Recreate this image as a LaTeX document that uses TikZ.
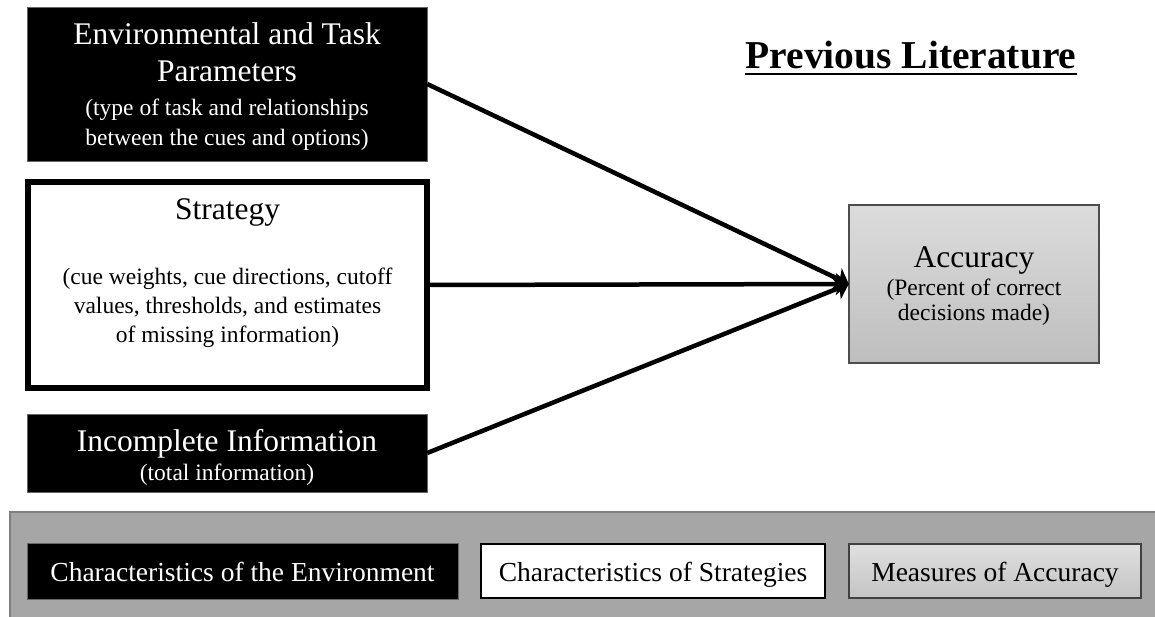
\documentclass[tikz,border=0pt]{standalone}
\usepackage{fontspec}
\setmainfont{Liberation Serif}
\usetikzlibrary{arrows.meta}
\definecolor{bandgray}{HTML}{A6A6A6}
\definecolor{bandedge}{HTML}{7F7F7F}
\definecolor{acctop}{HTML}{DCDCDC}
\definecolor{accbot}{HTML}{BEBEBE}
\definecolor{accedge}{HTML}{4D4D4D}
\tikzset{
  px/.style={x=1pt,y=-1pt},
  darkbox/.style={fill=black,draw=black!60,line width=0.8pt},
  stratbox/.style={fill=white,draw=black,line width=6pt},
  accbox/.style={top color=acctop,bottom color=accbot,shading=axis,draw=accedge,line width=1.2pt},
  keyaccbox/.style={top color=acctop!90!white,bottom color=accbot!80!acctop,shading=axis,draw=black!75,line width=1.2pt},
  keystratbox/.style={fill=white,draw=black,line width=2pt},
  bigtxt/.style={font=\fontsize{31.5}{37}\selectfont,inner sep=0pt,anchor=base},
  smalltxt/.style={font=\fontsize{23.5}{28}\selectfont,inner sep=0pt,anchor=base},
  keytxt/.style={font=\fontsize{27.5}{32}\selectfont,inner sep=0pt,anchor=base},
  link/.style={line width=4.5pt,-{Stealth[length=13pt,width=22pt,inset=3pt]}},
}
\begin{document}
\begin{tikzpicture}[px]
\useasboundingbox (0,0) rectangle (1155,617);

% title
\node[font=\fontsize{39.5}{46}\selectfont\bfseries,inner sep=0pt,anchor=base] (title) at (911,69) {Previous Literature};
\draw[line width=2.8pt] ([yshift=-5pt]title.base west) -- ([yshift=-5pt]title.base east);

% left column of factors
\path[darkbox] (27,7) rectangle (427,161);
\node[inner sep=0pt,minimum width=400pt,minimum height=154pt] (env) at (227,84) {};
\node[bigtxt,text=white] (env1) at (227,45) {Environmental and Task};
\node[bigtxt,text=white] (env2) at (227,82) {Parameters};
\node[smalltxt,text=white] (env3) at (227,116) {(type of task and relationships};
\node[smalltxt,text=white] (env4) at (227,146) {between the cues and options)};

\path[stratbox] (28,182) rectangle (427,388);
\node[inner sep=0pt,minimum width=405pt,minimum height=212pt] (strat) at (227.5,285) {};
\node[bigtxt] (strat1) at (227.5,220) {Strategy};
\node[smalltxt] (strat2) at (227.5,284) {(cue weights, cue directions, cutoff};
\node[smalltxt] (strat3) at (227.5,313) {values, thresholds, and estimates};
\node[smalltxt] (strat4) at (227.5,342) {of missing information)};

\path[darkbox] (27,414) rectangle (427,492);
\node[inner sep=0pt,minimum width=400pt,minimum height=78pt] (inc) at (227,453) {};
\node[bigtxt,text=white] (inc1) at (227,451) {Incomplete Information};
\node[smalltxt,text=white] (inc2) at (227,480) {(total information)};

% outcome
\path[accbox] (849,205) rectangle (1099,363);
\node[inner sep=0pt,minimum width=250pt,minimum height=158pt] (acc) at (974,284) {};
\node[bigtxt] (acc1) at (974,268) {Accuracy};
\node[smalltxt] (acc2) at (974,295) {(Percent of correct};
\node[smalltxt] (acc3) at (974,320) {decisions made)};

% connectors
\draw[link] (env.east) -- (acc.west);
\draw[link] (strat.east) -- (acc.west);
\draw[link] (inc.east) -- (acc.west);

% legend band
\fill[bandgray] (10,512) rectangle (1155,617);
\draw[bandedge,line width=1.5pt] (10,617) -- (10,512) -- (1155,512);

\path[darkbox] (27,543) rectangle (458,599);
\node[keytxt,text=white] (keyenv) at (242.5,581) {Characteristics of the Environment};
\path[keystratbox] (481,544) rectangle (825,598);
\node[keytxt] (keystrat) at (653,581) {Characteristics of Strategies};
\path[keyaccbox] (849,544) rectangle (1141,598);
\node[keytxt] (keyacc) at (995,581) {Measures of Accuracy};
\end{tikzpicture}
\end{document}
